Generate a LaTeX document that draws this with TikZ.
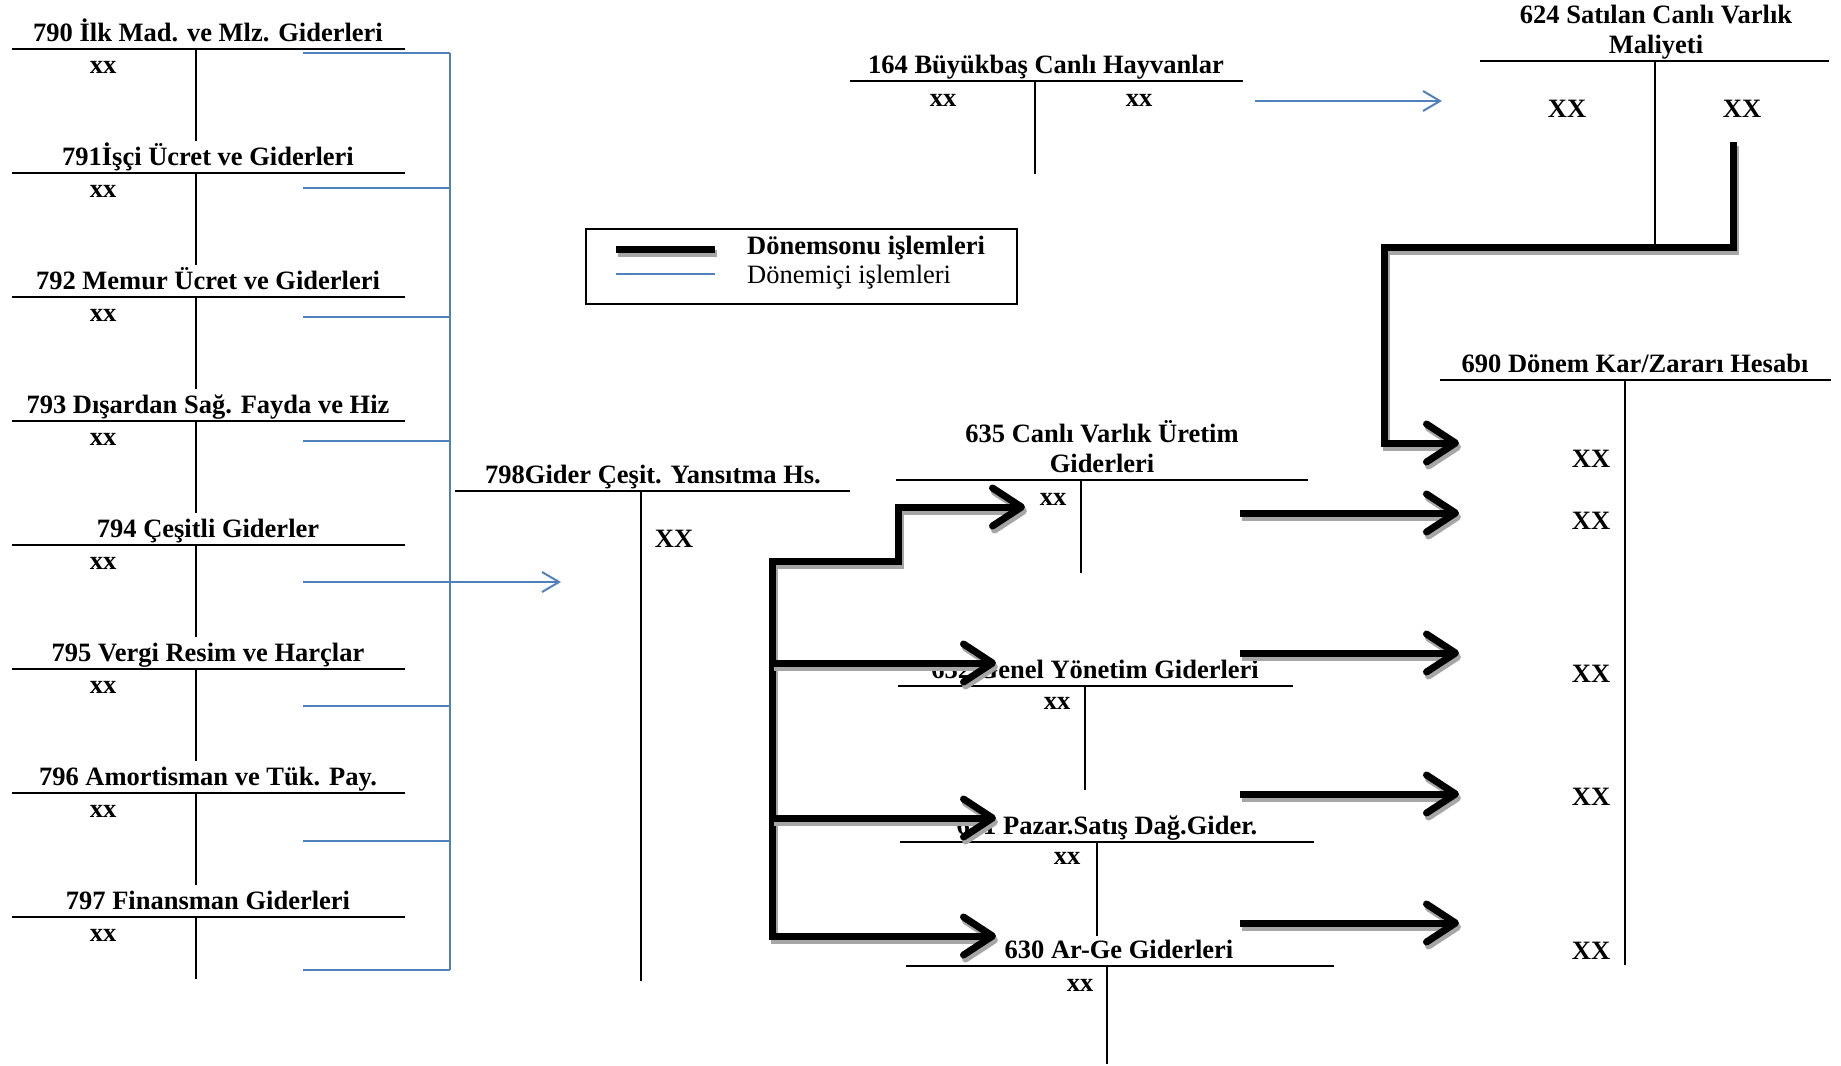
\documentclass[tikz,border=0pt]{standalone}
\usepackage{fontspec}
\setmainfont{Liberation Serif}
\usepackage{xcolor}
\usetikzlibrary{arrows.meta}
\definecolor{iciblue}{HTML}{4F81BD}
\newcommand{\hsfont}{\fontsize{26.5}{30.5}\selectfont}
\newcommand{\sonuarrow}[1]{\draw[sonushadow] #1; \draw[sonu] #1;}

\begin{document}
\begin{tikzpicture}[x=1pt,y=-1pt,
  hs/.style={line width=2pt},
  ici/.style={draw=iciblue,line width=2pt},
  icitip/.style={ici,-{Straight Barb[length=17pt,width=20pt]}},
  sonu/.style={line width=7pt,-{Straight Barb[length=29pt,width=38pt,round]}},
  sonushadow/.style={sonu,draw=black!35,transform canvas={shift={(2,4)}}},
  ttl/.style={font=\hsfont\bfseries,anchor=south,inner sep=0pt,text depth=0pt,align=center},
  xx/.style={font=\hsfont\bfseries,inner sep=0pt}]
\useasboundingbox (0,0) rectangle (1841,1065);

% 79x accounts
\node[ttl] (h790) at (208,42) {790 İlk Mad. ve Mlz. Giderleri};
\node[xx] (x790) at (103,67) {xx};
\draw[hs] (12,49) -- (405,49) (196,49) -- (196,141);
\draw[ici] (303,53) -- (450,53);

\node[ttl] (h791) at (208,166) {791İşçi Ücret ve Giderleri};
\node[xx] (x791) at (103,191) {xx};
\draw[hs] (12,173) -- (405,173) (196,173) -- (196,265);
\draw[ici] (303,188) -- (450,188);

\node[ttl] (h792) at (208,290) {792 Memur Ücret ve Giderleri};
\node[xx] (x792) at (103,315) {xx};
\draw[hs] (12,297) -- (405,297) (196,297) -- (196,389);
\draw[ici] (303,317) -- (450,317);

\node[ttl] (h793) at (208,414) {793 Dışardan Sağ. Fayda ve Hiz};
\node[xx] (x793) at (103,439) {xx};
\draw[hs] (12,421) -- (405,421) (196,421) -- (196,513);
\draw[ici] (303,441) -- (450,441);

\node[ttl] (h794) at (208,538) {794 Çeşitli Giderler};
\node[xx] (x794) at (103,563) {xx};
\draw[hs] (12,545) -- (405,545) (196,545) -- (196,637);
\draw[ici] (303,582) -- (450,582);

\node[ttl] (h795) at (208,662) {795 Vergi Resim ve Harçlar};
\node[xx] (x795) at (103,687) {xx};
\draw[hs] (12,669) -- (405,669) (196,669) -- (196,761);
\draw[ici] (303,706) -- (450,706);

\node[ttl] (h796) at (208,786) {796 Amortisman ve Tük. Pay.};
\node[xx] (x796) at (103,811) {xx};
\draw[hs] (12,793) -- (405,793) (196,793) -- (196,885);
\draw[ici] (303,841) -- (450,841);

\node[ttl] (h797) at (208,910) {797 Finansman Giderleri};
\node[xx] (x797) at (103,935) {xx};
\draw[hs] (12,917) -- (405,917) (196,917) -- (196,979);
\draw[ici] (303,970) -- (450,970);

% collecting line into 798
\coordinate (bt) at (450,53);
\coordinate (bb) at (450,970);
\coordinate (in798) at (561,582);
\draw[ici] (bt) -- (bb);
\draw[icitip] (in798 -| bt) -- (in798);

\node[ttl] (h798) at (653,484) {798Gider Çeşit. Yansıtma Hs.};
\node[xx] (x798) at (674,539) {XX};
\draw[hs] (455,491) -- (850,491) (641,491) -- (641,981);

% legend
\draw[hs] (586,229) rectangle (1017,304);
\draw[sonushadow,-] (616,249) -- (715,249);
\draw[sonu,-] (616,249) -- (715,249);
\draw[ici] (616,274) -- (715,274);
\node[font=\hsfont\bfseries,anchor=base west,inner sep=0pt] (lsonu) at (747,254) {Dönemsonu işlemleri};
\node[font=\hsfont,anchor=base west,inner sep=0pt] (lici) at (747,283) {Dönemiçi işlemleri};

% 164 and 624
\node[ttl] (h164) at (1046,74) {164 Büyükbaş Canlı Hayvanlar};
\node[xx] (xa164) at (943,100) {xx};
\node[xx] (xb164) at (1139,100) {xx};
\draw[hs] (850,81) -- (1243,81) (1035,81) -- (1035,174);

\coordinate (o164) at (1255,101);
\coordinate (i624) at (1442,101);
\draw[icitip] (o164) -- (i624);

\node[ttl] (h624) at (1656,54) {624 Satılan Canlı Varlık\\Maliyeti};
\node[xx] (xa624) at (1567,109) {XX};
\node[xx] (xb624) at (1742,109) {XX};
\draw[hs] (1480,61) -- (1829,61) (1655,61) -- (1655,247);

% 690
\node[ttl] (h690) at (1635,373) {690 Dönem Kar/Zararı Hesabı};
\draw[hs] (1440,380) -- (1831,380) (1625,380) -- (1625,965);
\node[xx] (xa690) at (1591,459) {XX};
\node[xx] (xb690) at (1591,521) {XX};
\node[xx] (xc690) at (1591,674) {XX};
\node[xx] (xd690) at (1591,797) {XX};
\node[xx] (xe690) at (1591,951) {XX};

% 63x accounts
\node[ttl] (h635) at (1102,473) {635 Canlı Varlık Üretim\\Giderleri};
\node[xx] (x635) at (1053,499) {xx};
\draw[hs] (896,480) -- (1308,480) (1081,480) -- (1081,573);

\node[ttl] (h632) at (1095,679) {632 Genel Yönetim Giderleri};
\node[xx] (x632) at (1057,703) {xx};
\draw[hs] (898,686) -- (1293,686) (1085,686) -- (1085,790);

\node[ttl] (h631) at (1107,835) {631 Pazar.Satış Dağ.Gider.};
\node[xx] (x631) at (1067,858) {xx};
\draw[hs] (900,842) -- (1314,842) (1097,842) -- (1097,936);

\node[ttl] (h630) at (1119,959) {630 Ar-Ge Giderleri};
\node[xx] (x630) at (1080,985) {xx};
\draw[hs] (906,966) -- (1334,966) (1107,966) -- (1107,1064);

% period end transfers
\coordinate (s624) at (1733,142);
\coordinate (k624) at (1384,247);
\coordinate (ea690) at (1459,443);
\sonuarrow{(s624) |- (k624) |- (ea690)}

\coordinate (t798) at (772,561);
\coordinate (b798) at (772,936);
\coordinate (k635) at (898,507);
\coordinate (e635) at (1025,507);
\coordinate (e632) at (996,663);
\coordinate (e631) at (996,818);
\coordinate (e630) at (996,936);
\sonuarrow{(b798) -- (t798) -| (k635) -- (e635)}
\sonuarrow{(t798 |- e632) -- (e632)}
\sonuarrow{(t798 |- e631) -- (e631)}
\sonuarrow{[shorten <=-3.5pt] (b798) -- (e630)}

\coordinate (o635) at (1240,513);
\coordinate (eb690) at (1459,513);
\coordinate (o632) at (1240,653);
\coordinate (ec690) at (1459,653);
\coordinate (o631) at (1240,794);
\coordinate (ed690) at (1459,794);
\coordinate (o630) at (1240,923);
\coordinate (ee690) at (1459,923);
\sonuarrow{(o635) -- (eb690)}
\sonuarrow{(o632) -- (ec690)}
\sonuarrow{(o631) -- (ed690)}
\sonuarrow{(o630) -- (ee690)}
\end{tikzpicture}
\end{document}
